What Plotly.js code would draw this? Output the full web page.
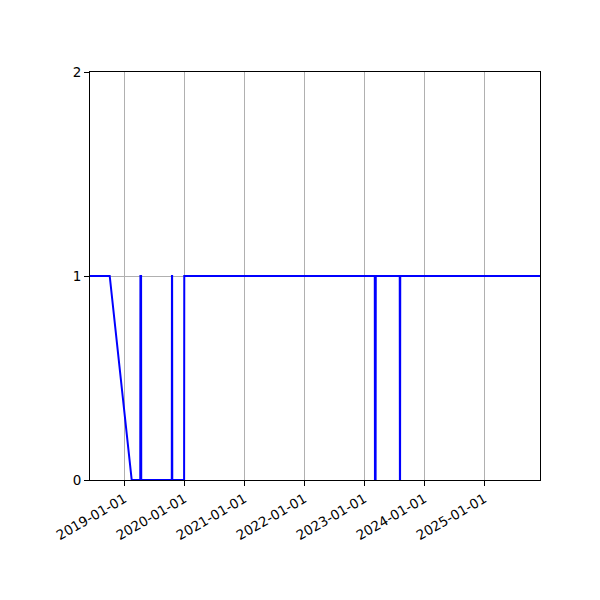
<!DOCTYPE html>
<html>
<head>
<meta charset="utf-8">
<script src="https://cdn.plot.ly/plotly-3.0.1.min.js"></script>
<style>
  body { margin: 0; background: #fff; }
  #chart { width: 600px; height: 600px; }
</style>
</head>
<body>
<div id="chart"></div>
<script>
// on/off values (1 = on, 0 = off)
var dates = [
    '2018-06-06', '2018-10-04', '2019-02-15', '2019-04-08', '2019-04-09',
    '2019-04-13', '2019-04-14', '2019-10-17', '2019-10-18', '2019-10-19',
    '2019-10-20', '2019-12-31', '2020-01-01', '2023-03-06', '2023-03-07',
    '2023-03-11', '2023-03-12', '2023-08-05', '2023-08-06', '2023-08-07',
    '2023-08-08', '2025-12-06'
];
var onOff = [
    1, 1, 0, 0, 1,
    1, 0, 0, 1, 1,
    0, 0, 1, 1, 0,
    0, 1, 1, 0, 0,
    1, 1
];
var yearTicks = ['2019-01-01', '2020-01-01', '2021-01-01', '2022-01-01',
                 '2023-01-01', '2024-01-01', '2025-01-01'];
var levelTicks = [0, 1, 2];

var trace = {
    x: dates,
    y: onOff,
    type: 'scatter',
    mode: 'lines',
    line: {color: '#0000ff', width: 2},
    hoverinfo: 'skip'
};

var layout = {
    width: 600,
    height: 600,
    margin: {l: 90, r: 60, t: 72, b: 120},
    paper_bgcolor: '#ffffff',
    plot_bgcolor: '#ffffff',
    showlegend: false,
    font: {family: 'DejaVu Sans', size: 13.5, color: '#000000'},
    xaxis: {
        type: 'date',
        range: ['2018-06-06', '2025-12-06'],
        tickvals: yearTicks,
        ticktext: yearTicks,
        tickangle: -30,
        ticks: 'outside',
        ticklen: 5,
        tickcolor: '#000',
        showgrid: true,
        gridcolor: '#b0b0b0',
        gridwidth: 1,
        showline: true,
        linecolor: '#000',
        linewidth: 1,
        mirror: true,
        zeroline: false
    },
    yaxis: {
        range: [0, 2],
        tickvals: levelTicks,
        ticks: 'outside',
        ticklen: 5,
        tickcolor: '#000',
        showgrid: true,
        gridcolor: '#b0b0b0',
        gridwidth: 1,
        showline: true,
        linecolor: '#000',
        linewidth: 1,
        mirror: true,
        zeroline: false
    }
};

Plotly.newPlot('chart', [trace], layout, {staticPlot: true});
</script>
</body>
</html>
